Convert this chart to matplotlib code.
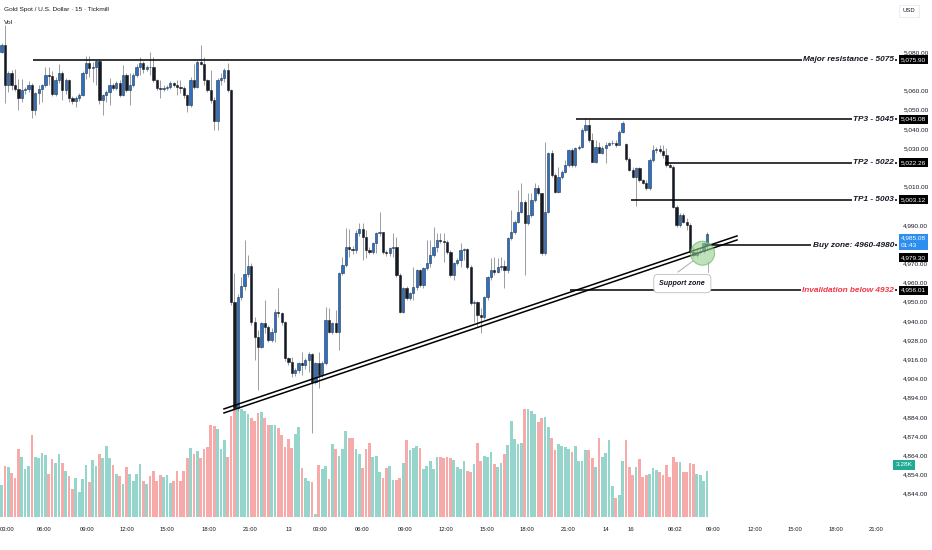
#!/usr/bin/env python3
"""Gold Spot / USD 15m - candlesticks, volume and trade plan levels"""

import matplotlib
matplotlib.use("Agg")
import matplotlib.pyplot as plt
import matplotlib.font_manager as fm
import matplotlib.transforms as mtransforms
from matplotlib.patches import Ellipse
import numpy as np

# ---- data ----
opens = [
    5080.2, 5083.7, 5062.9, 5068.9, 5063.0, 5061.0, 5056.0, 5060.0, 5060.8, 5063.0,
    5050.0, 5058.5, 5060.5, 5063.0, 5068.0, 5067.5, 5058.0, 5065.5, 5069.0, 5060.2,
    5065.5, 5056.0, 5054.6, 5055.9, 5057.6, 5069.3, 5074.1, 5071.5, 5072.0, 5075.3,
    5055.0, 5057.6, 5059.0, 5062.8, 5061.5, 5063.7, 5057.6, 5068.0, 5060.2, 5062.8,
    5068.0, 5072.4, 5074.1, 5071.0, 5072.4, 5072.0, 5065.5, 5061.1, 5060.5, 5061.5,
    5062.0, 5063.7, 5063.0, 5062.0, 5061.1, 5057.6, 5052.4, 5065.5, 5062.0, 5075.0,
    5074.0, 5065.5, 5060.2, 5055.0, 5044.3, 5065.5, 5066.3, 5070.6, 5060.2, 4949.8,
    4894.6, 4952.6, 4958.1, 4964.3, 4968.5, 4939.5, 4931.7, 4926.5, 4938.7, 4936.9,
    4930.0, 4934.0, 4944.7, 4943.9, 4939.5, 4920.4, 4918.7, 4912.6, 4914.4, 4917.8,
    4916.9, 4919.6, 4922.7, 4908.3, 4917.8, 4911.8, 4918.2, 4940.4, 4934.3, 4938.7,
    4934.3, 4964.7, 4969.0, 4978.6, 4977.4, 4977.0, 4985.5, 4987.6, 4983.5, 4976.8,
    4976.0, 4980.3, 4985.5, 4986.0, 4976.0, 4975.1, 4977.7, 4978.6, 4963.9, 4944.7,
    4956.9, 4951.7, 4954.3, 4957.7, 4966.4, 4958.6, 4967.3, 4969.9, 4974.3, 4978.6,
    4982.0, 4981.6, 4981.0, 4976.0, 4963.9, 4969.9, 4971.6, 4976.8, 4977.2, 4968.2,
    4949.1, 4949.9, 4943.0, 4942.2, 4952.6, 4963.0, 4966.5, 4965.6, 4968.2, 4968.8,
    4966.4, 4983.0, 4986.4, 4991.6, 4996.8, 5002.0, 4990.8, 4995.1, 5002.9, 5009.0,
    5006.4, 4975.1, 4996.8, 5027.2, 5015.9, 5007.3, 5015.1, 5017.7, 5021.1, 5029.0,
    5021.1, 5029.8, 5030.7, 5039.4, 5042.0, 5034.2, 5022.9, 5030.7, 5027.6, 5029.8,
    5031.6, 5032.4, 5032.8, 5031.6, 5038.5, 5031.9, 5024.2, 5018.5, 5015.1, 5019.4,
    5013.3, 5011.6, 5009.0, 5023.7, 5029.0, 5029.3, 5028.6, 5026.4, 5021.1, 5020.3,
    4999.4, 4989.9, 4995.1, 4991.6, 4989.9, 4976.0, 4974.3, 4976.0, 4976.5, 4980.3,
]
highs = [
    5084.5, 5094.0, 5070.0, 5070.5, 5071.0, 5066.0, 5066.0, 5062.0, 5065.0, 5064.0,
    5059.0, 5063.0, 5063.5, 5072.4, 5072.0, 5070.0, 5067.0, 5074.0, 5070.0, 5066.5,
    5066.0, 5057.0, 5057.0, 5058.5, 5070.0, 5078.0, 5078.0, 5075.0, 5076.0, 5076.5,
    5058.0, 5060.0, 5066.3, 5064.0, 5065.0, 5065.5, 5073.3, 5069.0, 5069.0, 5069.0,
    5074.0, 5077.6, 5075.5, 5073.0, 5080.2, 5077.6, 5066.0, 5065.5, 5063.0, 5063.0,
    5065.0, 5064.6, 5065.5, 5065.5, 5062.3, 5058.0, 5067.2, 5074.0, 5076.0, 5083.7,
    5077.6, 5066.0, 5070.6, 5056.8, 5066.3, 5069.0, 5071.5, 5074.1, 5061.0, 4965.0,
    4954.0, 4963.0, 4982.0, 4974.3, 4969.9, 4942.0, 4935.0, 4939.5, 4950.8, 4938.0,
    4936.0, 4946.0, 4956.9, 4944.5, 4940.0, 4921.0, 4921.3, 4915.5, 4918.5, 4923.9,
    4920.5, 4923.5, 4923.0, 4918.5, 4923.9, 4919.0, 4947.4, 4946.5, 4939.5, 4945.6,
    4965.5, 4973.4, 4988.1, 4988.0, 4979.0, 4987.3, 4990.7, 4990.7, 4987.3, 4978.6,
    4981.0, 4986.4, 4996.8, 4986.5, 4977.0, 4978.5, 4985.5, 4983.8, 4964.7, 4957.5,
    4958.0, 4955.0, 4968.2, 4967.0, 4967.2, 4968.0, 4982.0, 4982.0, 4989.0, 4985.5,
    4985.5, 4985.5, 4982.0, 4976.9, 4970.8, 4972.5, 4980.3, 4978.0, 4978.0, 4969.0,
    4950.8, 4950.5, 4946.5, 4953.0, 4963.5, 4972.5, 4973.4, 4972.5, 4973.4, 4971.7,
    4983.5, 4997.7, 4992.5, 5008.1, 5011.6, 5002.9, 5006.4, 5006.4, 5011.6, 5010.7,
    5006.8, 5033.3, 5028.1, 5029.0, 5016.8, 5020.3, 5018.5, 5023.7, 5029.5, 5029.8,
    5030.5, 5031.5, 5040.2, 5045.5, 5045.1, 5037.6, 5034.2, 5033.3, 5031.0, 5033.3,
    5033.0, 5034.2, 5034.2, 5039.4, 5044.2, 5032.4, 5025.5, 5020.3, 5020.3, 5020.0,
    5014.0, 5013.3, 5024.6, 5031.6, 5030.7, 5031.6, 5031.6, 5029.8, 5022.0, 5021.1,
    5000.3, 4996.0, 4996.0, 4993.4, 4990.8, 4978.6, 4977.7, 4977.5, 4981.2, 4986.4,
]
lows = [
    5079.5, 5053.3, 5059.0, 5060.0, 5059.5, 5049.8, 5054.0, 5058.0, 5059.0, 5045.5,
    5047.0, 5053.0, 5054.0, 5062.0, 5063.0, 5057.0, 5057.0, 5064.0, 5055.0, 5058.0,
    5054.0, 5053.0, 5051.5, 5054.5, 5057.0, 5066.0, 5067.2, 5064.6, 5062.8, 5053.0,
    5047.2, 5054.0, 5052.4, 5060.0, 5060.0, 5056.8, 5057.0, 5059.4, 5052.4, 5062.0,
    5067.0, 5068.0, 5069.0, 5070.0, 5068.2, 5064.6, 5060.0, 5056.0, 5059.5, 5060.0,
    5061.0, 5062.0, 5057.6, 5058.5, 5056.0, 5049.0, 5051.5, 5061.0, 5061.5, 5073.0,
    5063.0, 5059.0, 5053.3, 5039.4, 5039.4, 5062.8, 5064.6, 5059.4, 4948.0, 4893.5,
    4893.0, 4950.8, 4956.0, 4963.0, 4937.8, 4919.6, 4904.0, 4925.6, 4933.5, 4929.0,
    4929.0, 4929.0, 4942.0, 4938.0, 4919.0, 4917.0, 4910.9, 4911.0, 4913.0, 4911.8,
    4915.0, 4913.5, 4881.4, 4907.0, 4904.8, 4910.9, 4917.0, 4933.5, 4933.0, 4933.5,
    4924.8, 4963.9, 4968.0, 4973.4, 4975.0, 4975.1, 4984.0, 4971.6, 4972.5, 4975.0,
    4975.0, 4975.1, 4984.0, 4975.0, 4974.0, 4974.0, 4973.4, 4963.0, 4943.9, 4944.0,
    4950.8, 4950.8, 4951.0, 4956.0, 4957.5, 4957.0, 4966.5, 4968.2, 4973.4, 4976.0,
    4980.3, 4970.8, 4975.0, 4963.0, 4961.2, 4969.0, 4968.2, 4971.6, 4967.0, 4948.0,
    4939.5, 4937.0, 4933.5, 4941.0, 4951.0, 4961.3, 4963.9, 4964.7, 4966.6, 4956.9,
    4965.0, 4982.0, 4985.0, 4990.8, 4996.0, 4963.9, 4989.9, 4994.2, 5002.0, 5005.5,
    4974.3, 4974.3, 4996.0, 5015.0, 5006.4, 5006.4, 5014.0, 5016.8, 5020.3, 5020.3,
    5020.0, 5029.0, 5029.8, 5038.5, 5033.3, 5022.9, 5022.0, 5027.2, 5027.0, 5022.0,
    5031.0, 5031.5, 5030.7, 5031.6, 5037.6, 5023.0, 5018.0, 5014.2, 5000.0, 5012.5,
    5011.0, 5008.1, 5008.1, 5022.9, 5027.2, 5027.5, 5024.6, 5020.3, 5019.4, 4998.6,
    4989.0, 4989.0, 4990.8, 4987.3, 4975.1, 4973.4, 4973.4, 4975.0, 4975.1, 4976.9,
]
closes = [
    5083.7, 5062.9, 5068.9, 5063.0, 5061.0, 5056.0, 5060.0, 5060.8, 5063.0, 5050.0,
    5058.5, 5060.5, 5063.0, 5068.0, 5067.5, 5058.0, 5065.5, 5069.0, 5060.2, 5065.5,
    5056.0, 5054.6, 5055.9, 5057.6, 5069.3, 5074.1, 5071.5, 5072.0, 5075.3, 5055.0,
    5057.6, 5059.0, 5062.8, 5061.5, 5063.7, 5057.6, 5068.0, 5060.2, 5062.8, 5068.0,
    5072.4, 5074.1, 5071.0, 5072.4, 5072.0, 5065.5, 5061.1, 5060.5, 5061.5, 5062.0,
    5063.7, 5063.0, 5062.0, 5061.1, 5057.6, 5052.4, 5065.5, 5062.0, 5075.0, 5074.0,
    5065.5, 5060.2, 5055.0, 5044.3, 5065.5, 5066.3, 5070.6, 5060.2, 4949.8, 4894.6,
    4952.6, 4958.1, 4964.3, 4968.5, 4939.5, 4931.7, 4926.5, 4938.7, 4936.9, 4930.0,
    4934.0, 4944.7, 4943.9, 4939.5, 4920.4, 4918.7, 4912.6, 4914.4, 4917.8, 4916.9,
    4919.6, 4922.7, 4908.3, 4917.8, 4911.8, 4918.2, 4940.4, 4934.3, 4938.7, 4934.3,
    4964.7, 4969.0, 4978.6, 4977.4, 4977.0, 4985.5, 4987.6, 4983.5, 4976.8, 4976.0,
    4980.3, 4985.5, 4986.0, 4976.0, 4975.1, 4977.7, 4978.6, 4963.9, 4944.7, 4956.9,
    4951.7, 4954.3, 4957.7, 4966.4, 4958.6, 4967.3, 4969.9, 4974.3, 4978.6, 4982.0,
    4981.6, 4981.0, 4976.0, 4963.9, 4969.9, 4971.6, 4976.8, 4977.2, 4968.2, 4949.1,
    4949.9, 4943.0, 4942.2, 4952.6, 4963.0, 4966.5, 4965.6, 4968.2, 4968.8, 4966.4,
    4983.0, 4986.4, 4991.6, 4996.8, 5002.0, 4990.8, 4995.1, 5002.9, 5009.0, 5006.4,
    4975.1, 4996.8, 5027.2, 5015.9, 5007.3, 5015.1, 5017.7, 5021.1, 5029.0, 5021.1,
    5029.8, 5030.7, 5039.4, 5042.0, 5034.2, 5022.9, 5030.7, 5027.6, 5029.8, 5031.6,
    5032.4, 5032.8, 5031.6, 5038.5, 5043.2, 5024.2, 5018.5, 5015.1, 5019.4, 5013.3,
    5011.6, 5009.0, 5023.7, 5029.0, 5029.3, 5028.6, 5026.4, 5021.1, 5020.3, 4999.4,
    4989.9, 4995.1, 4991.6, 4989.9, 4976.0, 4974.3, 4976.0, 4976.5, 4980.3, 4985.08,
]
# volume in thousands
volume = [
    2.25, 3.62, 3.54, 3.10, 2.79, 4.85, 4.25, 3.43, 3.62, 5.79,
    4.25, 4.21, 4.51, 4.42, 3.02, 4.14, 3.85, 4.44, 3.85, 3.26,
    2.91, 1.96, 2.79, 1.77, 2.72, 3.66, 2.48, 4.02, 3.62, 4.44,
    4.21, 5.03, 4.21, 3.66, 3.07, 2.91, 2.32, 3.54, 3.02, 2.55,
    3.02, 3.73, 2.55, 2.32, 2.91, 3.26, 2.55, 2.95, 2.84, 2.95,
    2.39, 2.55, 3.26, 2.55, 3.26, 4.21, 4.87, 4.44, 4.68, 4.16,
    4.80, 4.96, 6.50, 6.45, 6.22, 4.80, 5.46, 4.28, 7.16, 7.63,
    7.99, 7.68, 7.52, 7.28, 7.04, 6.85, 7.35, 7.45, 7.04, 6.50,
    6.50, 6.50, 6.33, 5.79, 4.96, 5.51, 4.92, 5.86, 6.41, 3.50,
    2.79, 2.55, 2.48, 0.20, 3.69, 3.43, 3.62, 2.72, 5.15, 4.80,
    4.33, 4.85, 6.10, 5.63, 5.58, 4.80, 4.44, 3.50, 4.80, 5.22,
    4.25, 4.33, 3.19, 2.79, 3.50, 3.62, 2.62, 2.62, 2.79, 3.80,
    5.44, 4.75, 4.92, 5.03, 4.87, 3.43, 3.62, 3.97, 3.43, 4.25,
    4.25, 4.16, 4.25, 4.16, 4.04, 3.57, 3.43, 3.97, 3.26, 3.19,
    3.73, 5.22, 3.97, 4.33, 4.25, 4.61, 3.73, 3.54, 3.85, 4.44,
    5.08, 6.85, 5.51, 5.15, 5.22, 7.68, 7.68, 7.52, 7.28, 6.74,
    7.00, 7.11, 6.41, 5.58, 4.73, 5.15, 5.03, 4.96, 4.80, 4.63,
    5.03, 3.97, 3.97, 4.73, 4.73, 4.16, 3.54, 5.58, 4.28, 4.56,
    5.44, 2.20, 1.37, 1.54, 3.97, 5.44, 3.54, 2.98, 3.57, 4.09,
    2.86, 2.95, 3.02, 3.50, 3.33, 3.19, 2.95, 3.69, 2.86, 4.28,
    3.90, 3.92, 3.19, 3.19, 3.85, 3.73, 3.02, 2.95, 2.55, 3.28,
]

# time axis labels (positions in bar index units)
time_tick_pos = [1.6, 12.6, 25.3, 37.2, 49.0, 61.5, 73.6, 85.2, 94.3, 106.8, 119.5,
                 131.7, 143.8, 155.7, 167.8, 179.1, 186.5, 199.5, 210.8, 223.2,
                 235.0, 247.2, 259.0]
time_tick_labels = ["03:00", "06:00", "09:00", "12:00", "15:00", "18:00", "21:00",
                    "13", "03:00", "06:00", "09:00", "12:00", "15:00", "18:00",
                    "21:00", "14", "16", "06:02", "09:00", "12:00", "15:00",
                    "18:00", "21:00"]

# price scale labels as printed on the chart
price_tick_pos = [5080, 5060, 5050, 5040, 5030, 5010, 4990, 4970, 4960, 4950, 4940,
                  4930, 4920, 4910, 4900, 4890, 4880, 4870, 4860, 4850]
price_tick_labels = ["5,080.00", "5,060.00", "5,050.00", "5,040.00", "5,030.00",
                     "5,010.00", "4,990.00", "4,970.00", "4,960.00", "4,950.00",
                     "4,940.00", "4,928.00", "4,916.00", "4,904.00", "4,894.00",
                     "4,884.00", "4,874.00", "4,864.00", "4,854.00", "4,844.00"]

# trade plan levels
level_prices = [5075.90, 5045.08, 5022.26, 5003.12, 4979.30, 4956.01]
level_names = ["Major resistance - 5075", "TP3 - 5045", "TP2 - 5022", "TP1 - 5003",
               "Buy zone: 4960-4980", "Invalidation below 4932"]
level_start = [9.3, 170.2, 196.5, 186.4, 208.4, 168.4]

# rising support channel (two parallel lines)
trend_x = [65.9, 217.9]
trend_low = [4892.0, 4982.1]
trend_high = [4894.1, 4984.2]

# ---- style ----
available = {f.name for f in fm.fontManager.ttflist}
if "Liberation Sans Narrow" in available:
    FONT, K = "Liberation Sans Narrow", 1.0
else:
    FONT, K = "Liberation Sans", 0.85
plt.rcParams["font.family"] = [FONT, "DejaVu Sans"]

TXT = "#131722"
UP, UP_EDGE = "#2f6fbf", "#1d3557"
DOWN = "#161a22"
WICK = "#8a8d96"
VOL_UP, VOL_DN = "#95d5cc", "#f6abaa"

W, H = 932, 550
fig = plt.figure(figsize=(W / 100, H / 100), dpi=100)
ax = fig.add_axes([0, 1 - 517 / H, 897 / W, 517 / H])
axv = ax.twinx()
ax.set_zorder(axv.get_zorder() + 1)
ax.patch.set_visible(False)

o, h, l, c = map(np.array, (opens, highs, lows, closes))
idx = np.arange(len(c))
up = c >= o

# volume
axv.bar(idx, volume, width=0.8, color=np.where(up, VOL_UP, VOL_DN), linewidth=0)
axv.set_ylim(0, 36.7)
axv.set_yticks([])

# candles
ax.vlines(idx, l, h, color=WICK, linewidth=0.6, zorder=2)
lo = np.minimum(o, c)
hgt = np.abs(c - o)
ax.bar(idx[up], hgt[up], bottom=lo[up], width=0.68, color=UP,
       edgecolor=UP_EDGE, linewidth=0.4, zorder=3)
ax.bar(idx[~up], hgt[~up], bottom=lo[~up], width=0.68, color=DOWN,
       edgecolor=DOWN, linewidth=0.4, zorder=3)

ax.set_xlim(-0.45, 265.3)
ax.set_ylim(4837.8, 5107.1)

# trend channel
ax.plot(trend_x, trend_low, color="black", linewidth=1.1, zorder=4)
ax.plot(trend_x, trend_high, color="black", linewidth=1.1, zorder=4)

# levels + labels + price tags
blend = mtransforms.blended_transform_factory(ax.transAxes, ax.transData)
for p, name, x0 in zip(level_prices, level_names, level_start):
    ax.hlines(p, x0, 265.3, color="black", linewidth=1.1, zorder=4)
    col = "#f23645" if name.startswith("Invalidation") else TXT
    ax.text(894 / 897, p, name, transform=blend, ha="right", va="center",
            fontsize=7 * K, fontweight="bold", fontstyle="italic", color=col,
            zorder=6, bbox=dict(boxstyle="square,pad=0.15", fc="white", ec="none"))
    dy = -8.6 if name.startswith("Buy") else 0
    ax.annotate(f"{p:,.2f}", xy=(901 / 897, p), xycoords=blend,
                xytext=(0, dy), textcoords="offset points", ha="left", va="center",
                fontsize=5.5 * K, color="white", annotation_clip=False, zorder=8,
                bbox=dict(boxstyle="square,pad=0.3", fc="black", ec="none"))

# current price tag with bar countdown
ax.annotate(f"{closes[-1]:,.2f}\n01:43", xy=(901 / 897, closes[-1]), xycoords=blend,
            xytext=(0, -5.5), textcoords="offset points", ha="left", va="center",
            fontsize=5.5 * K, color="white", linespacing=1.7, annotation_clip=False,
            zorder=9, bbox=dict(boxstyle="square,pad=0.3", fc="#2e8ef0", ec="none"))

# volume tag
vblend = mtransforms.blended_transform_factory(axv.transAxes, axv.transData)
axv.annotate(f"{volume[-1]:.2f}K", xy=(895.5 / 897, volume[-1]), xycoords=vblend,
             xytext=(0, 4.3), textcoords="offset points", ha="left", va="center",
             fontsize=5.5 * K, color="white", annotation_clip=False,
             bbox=dict(boxstyle="square,pad=0.35", fc="#22ab94", ec="none"))

# support zone marker + callout
ax.add_patch(Ellipse((207.7, 4975.2), 7.1, 12.5, fc="#93cf8d", ec="#5aae57",
                     alpha=0.6, linewidth=0.8, zorder=5))
ax.plot([200.4, 204.8], [4965.4, 4971.1], color="#9e9e9e", linewidth=0.6, zorder=5)
ax.plot([209.3, 209.3], [4965.4, 4970.6], color="#9e9e9e", linewidth=0.6, zorder=5)
ax.text(201.7, 4959.4, "Support zone", ha="center", va="center", fontsize=6 * K,
        fontweight="bold", fontstyle="italic", color=TXT, zorder=6,
        bbox=dict(boxstyle="round,pad=0.8,rounding_size=0.6", fc="white",
                  ec="#bdbdbd", linewidth=0.6))

# axes cosmetics
for sp in list(ax.spines.values()) + list(axv.spines.values()):
    sp.set_visible(False)
ax.yaxis.tick_right()
ax.set_yticks(price_tick_pos, price_tick_labels)
ax.tick_params(axis="y", length=0, pad=4.5, labelsize=5.5 * K, labelcolor=TXT)
ax.set_xticks(time_tick_pos, time_tick_labels)
ax.tick_params(axis="x", length=0, pad=7, labelsize=5 * K, labelcolor=TXT)

# header
fig.text(4 / W, 1 - 10 / H, "Gold Spot / U.S. Dollar \u00b7 15 \u00b7 Tickmill",
         fontsize=5.5 * K, color=TXT, va="center")
fig.text(4 / W, 1 - 22 / H, "Vol", fontsize=5.5 * K, color=TXT, va="center")
fig.text(909 / W, 1 - 11 / H, "USD", fontsize=5 * K, color=TXT, ha="center",
         va="center", bbox=dict(boxstyle="square,pad=0.6", fc="white", ec="#e8e8ee",
                                linewidth=0.6))

fig.savefig("out.png", dpi=100)
